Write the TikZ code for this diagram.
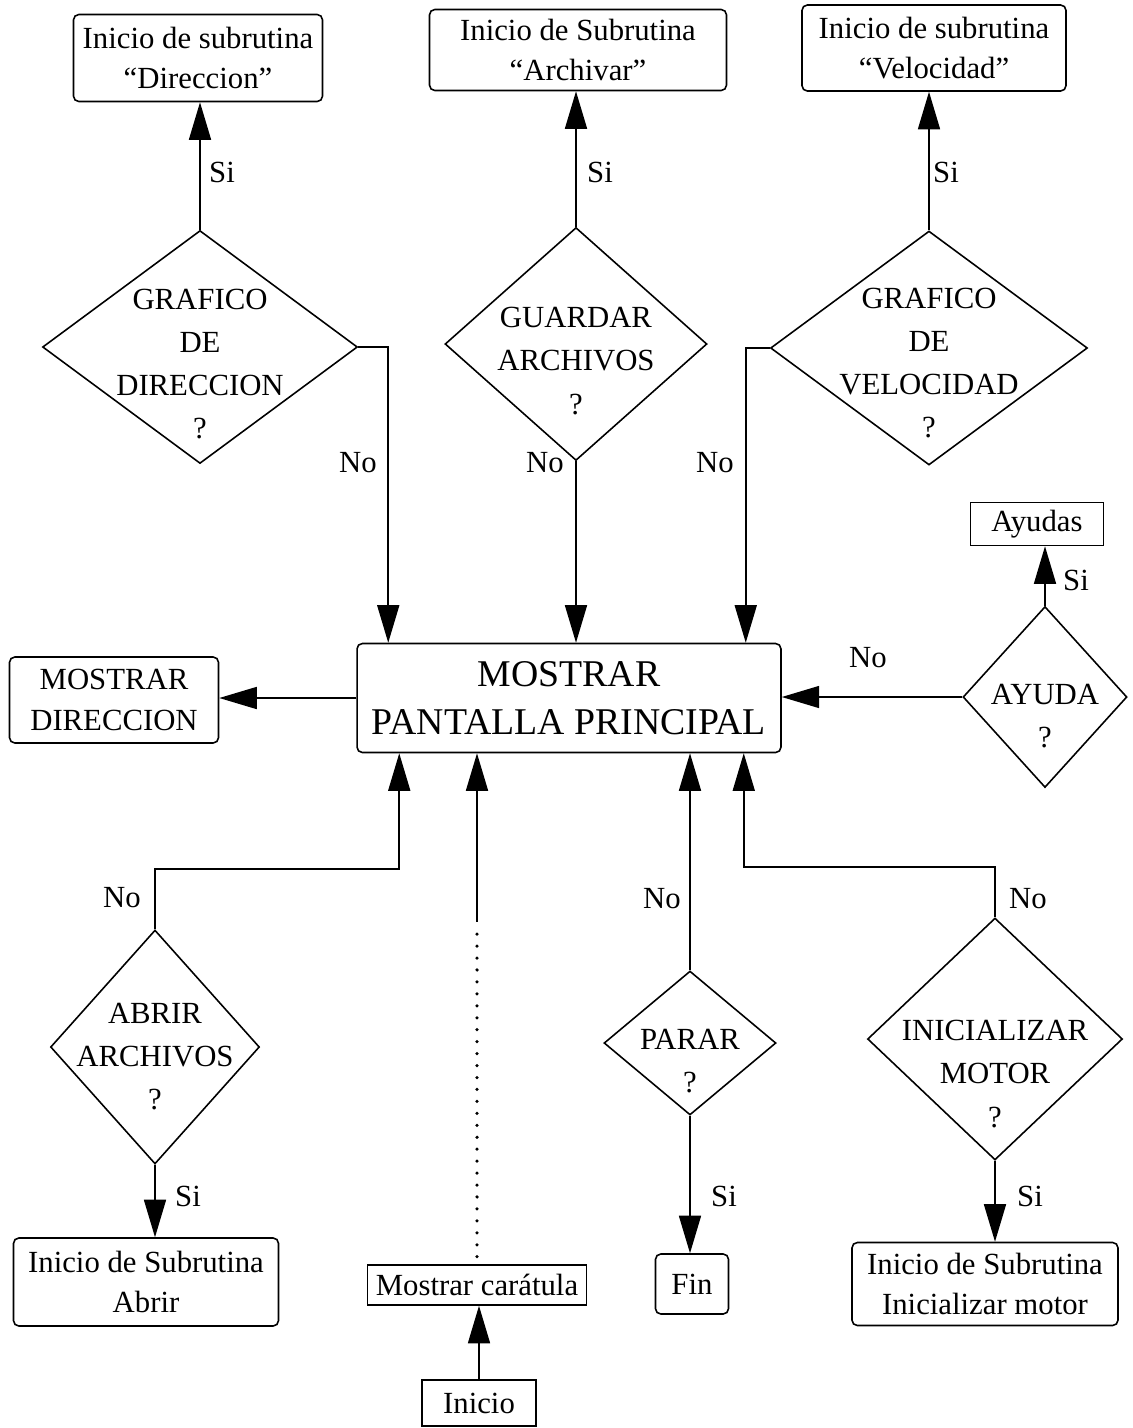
\documentclass[tikz,border=0pt]{standalone}
\usepackage{fontspec}
\setmainfont{Liberation Serif}
\usetikzlibrary{shapes.geometric,arrows.meta,positioning,calc}

\begin{document}
\begin{tikzpicture}[x=0.02cm,y=-0.02cm,
  caja/.style={draw,rounded corners=3pt,line width=0.9pt,align=center,inner sep=2pt,font=\fontsize{17.5}{23}\selectfont},
  recta/.style={caja,sharp corners},
  rombo/.style={diamond,draw,line width=0.9pt,inner sep=0pt},
  texto/.style={align=center,inner sep=0pt,font=\fontsize{17.5}{24.5}\selectfont},
  flecha/.style={line width=0.9pt,-{Triangle[length=0.75cm,width=0.44cm]}},
  linea/.style={line width=0.9pt},
  punteada/.style={line width=2pt,line cap=round,dash pattern=on 0pt off 6.8pt},
  etiq/.style={font=\fontsize{17.5}{20}\selectfont}]
\useasboundingbox (0,0) rectangle (1133,1428);

% subrutinas de arriba
\node[caja,minimum width=4.98cm,minimum height=1.74cm] (sdir) at (198,58) {Inicio de subrutina\\“Direccion”};
\node[caja,minimum width=5.94cm,minimum height=1.62cm] (sarch) at (578,50) {Inicio de Subrutina\\“Archivar”};
\node[caja,minimum width=5.28cm,minimum height=1.72cm] (svel) at (934,48) {Inicio de subrutina\\“Velocidad”};

% decisiones de arriba
\node[rombo,minimum width=6.3cm,minimum height=4.66cm,label={[texto,yshift=-0.34cm]center:{GRAFICO\\DE\\DIRECCION\\?}}] (gdir) at (200,347) {};
\node[rombo,minimum width=5.24cm,minimum height=4.66cm,label={[texto,yshift=-0.34cm]center:{GUARDAR\\ARCHIVOS\\?}}] (gguar) at (576,344) {};
\node[rombo,minimum width=6.34cm,minimum height=4.68cm,label={[texto,yshift=-0.3cm]center:{GRAFICO\\DE\\VELOCIDAD\\?}}] (gvel) at (929,348) {};

% pantalla principal
\node[caja,font=\fontsize{21.5}{27}\selectfont,minimum width=8.48cm,minimum height=2.18cm] (main) at (569,698) {MOSTRAR\\PANTALLA PRINCIPAL};
\node[caja,minimum width=4.18cm,minimum height=1.72cm] (mdir) at (114,700) {MOSTRAR\\DIRECCION};
\node[rombo,minimum width=3.28cm,minimum height=3.62cm,label={[texto,yshift=-0.38cm]center:{AYUDA\\?}}] (ayuda) at (1045,697) {};
\node[recta,minimum width=2.66cm,minimum height=0.86cm] (ayudas) at (1037,524) {Ayudas};

% decisiones de abajo
\node[rombo,minimum width=4.18cm,minimum height=4.68cm,label={[texto,yshift=-0.2cm]center:{ABRIR\\ARCHIVOS\\?}}] (abrir) at (155,1047) {};
\node[rombo,minimum width=3.44cm,minimum height=2.88cm,label={[texto,yshift=-0.36cm]center:{PARAR\\?}}] (parar) at (690,1043) {};
\node[rombo,minimum width=5.1cm,minimum height=4.84cm,label={[texto,yshift=-0.7cm]center:{INICIALIZAR\\MOTOR\\?}}] (motor) at (995,1039) {};

% cajas de abajo
\node[caja,minimum width=5.3cm,minimum height=1.76cm] (sabrir) at (146,1282) {Inicio de Subrutina\\Abrir};
\node[recta,minimum width=4.38cm,minimum height=0.8cm] (carat) at (477,1285) {Mostrar carátula};
\node[caja,minimum width=1.46cm,minimum height=1.2cm] (fin) at (692,1284) {Fin};
\node[caja,minimum width=5.32cm,minimum height=1.66cm] (smotor) at (985,1284) {Inicio de Subrutina\\Inicializar motor};
\node[recta,minimum width=2.28cm,minimum height=0.92cm] (inicio) at (479,1403) {Inicio};

% flechas Si
\draw[flecha] (gdir.north) -- (gdir.north |- sdir.south);
\draw[flecha] (gguar.north) -- (gguar.north |- sarch.south);
\draw[flecha] (gvel.north) -- (gvel.north |- svel.south);
\draw[flecha] (ayuda.north) -- (ayuda.north |- ayudas.south);
\draw[flecha] (abrir.south) -- (abrir.south |- sabrir.north);
\draw[flecha] (parar.south) -- (parar.south |- fin.north);
\draw[flecha] (motor.south) -- (motor.south |- smotor.north);

% flechas No
\draw[flecha] (gdir.east) -| ([xshift=0.64cm]main.north west);
\draw[flecha] (gguar.south) -- (gguar.south |- main.north);
\draw[flecha] (gvel.west) -| ([xshift=-0.72cm]main.north east);
\draw[flecha] (ayuda.west) -- (ayuda.west -| main.east);
\draw[flecha] (abrir.north) -- ++(0,-60) -| ([xshift=0.86cm]main.south west);
\draw[flecha] (parar.north) -- (parar.north |- main.south);
\draw[flecha] (motor.north) -- ++(0,-50) -| ([xshift=-0.76cm]main.south east);

% resto
\draw[flecha] (main.west) -- (main.west -| mdir.east);
\draw[flecha] (inicio.north) -- (inicio.north |- carat.south);
\draw[punteada] ([yshift=0.15cm]carat.north) -- ++(0,-325) coordinate (cpunt);
\draw[flecha] ([yshift=0.2cm]cpunt) -- (cpunt |- main.south);

% etiquetas
\node[etiq] (si1) at (222,172) {Si};
\node[etiq] (si2) at (600,172) {Si};
\node[etiq] (si3) at (946,172) {Si};
\node[etiq] (no1) at (358,463) {No};
\node[etiq] (no2) at (545,463) {No};
\node[etiq] (no3) at (715,463) {No};
\node[etiq] (si4) at (1076,580) {Si};
\node[etiq] (no4) at (868,658) {No};
\node[etiq] (no5) at (122,898) {No};
\node[etiq] (si5) at (188,1196) {Si};
\node[etiq] (no6) at (662,899) {No};
\node[etiq] (si6) at (724,1196) {Si};
\node[etiq] (no7) at (1028,899) {No};
\node[etiq] (si7) at (1030,1196) {Si};
\end{tikzpicture}
\end{document}
